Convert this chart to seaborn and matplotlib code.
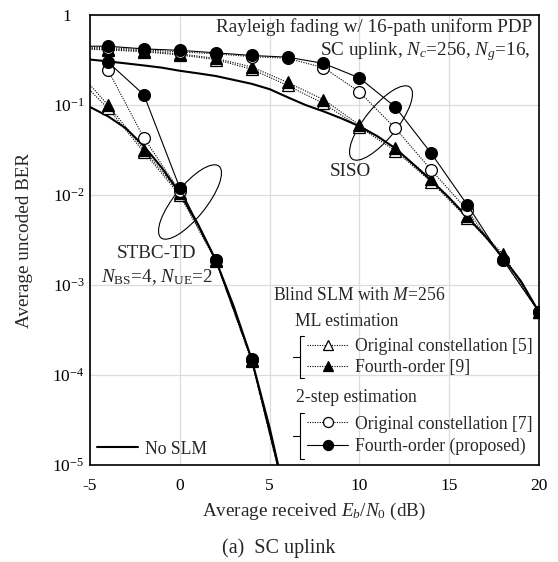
import numpy as np
import pandas as pd
import seaborn as sns
import matplotlib
matplotlib.use("Agg")
import matplotlib.pyplot as plt
from matplotlib.patches import Ellipse
from matplotlib.lines import Line2D
from matplotlib.ticker import FixedLocator, LogLocator, NullFormatter, MultipleLocator

# ---------------- data ----------------
# SISO, blind SLM (x = Eb/N0 in dB)
snr_siso = [-6, -4, -2, 0, 2, 4, 6, 8, 10, 12, 14, 16, 18, 20]
siso_2step_4th = [0.45, 0.45, 0.42, 0.405, 0.38, 0.355, 0.34, 0.29, 0.20, 0.095, 0.029, 0.0078, 0.0019, 0.0005]
siso_2step_orig = [0.44, 0.435, 0.41, 0.39, 0.37, 0.345, 0.33, 0.26, 0.14, 0.055, 0.019, 0.0068, 0.0019, 0.0005]
siso_ml_4th = [0.43, 0.42, 0.40, 0.37, 0.33, 0.265, 0.178, 0.115, 0.06, 0.033, 0.015, 0.0058, 0.0022, 0.0005]
siso_ml_orig = [0.42, 0.41, 0.39, 0.36, 0.32, 0.25, 0.165, 0.104, 0.057, 0.031, 0.014, 0.0055, 0.0021, 0.0005]

# STBC-TD, blind SLM
snr_stbc_tri = [-6, -4, -2, 0, 2, 4, 6]
stbc_ml_4th = [0.28, 0.10, 0.032, 0.0105, 0.0019, 0.000148, 3.5e-6]
stbc_ml_orig = [0.23, 0.092, 0.030, 0.0100, 0.00185, 0.000142, 3.4e-6]
snr_stbc_circ = [-4, -2, 0, 2, 4, 6]
stbc_2step_4th = [0.30, 0.13, 0.012, 0.0019, 0.00015, 3.5e-6]
stbc_2step_orig = [0.245, 0.043, 0.011, 0.0019, 0.000148, 3.5e-6]

# No SLM
snr_nslm_siso = list(range(-5, 21))
nslm_siso = [0.32, 0.305, 0.29, 0.275, 0.26, 0.24, 0.225, 0.21, 0.19, 0.172, 0.15, 0.122, 0.1,
             0.085, 0.071, 0.058, 0.045, 0.033, 0.022, 0.0145, 0.0093, 0.0057, 0.0035, 0.002,
             0.0011, 0.0005]
snr_nslm_stbc = list(range(-5, 7))
nslm_stbc = [0.095, 0.075, 0.055, 0.035, 0.02, 0.0105, 0.0048, 0.0019, 0.00058, 0.00015, 2.6e-5, 3.5e-6]

xticks = [-5, 0, 5, 10, 15, 20]
yticks = [1e-5, 1e-4, 1e-3, 1e-2, 1e-1, 1]
ytick_labels = [r"$10^{-5}$", r"$10^{-4}$", r"$10^{-3}$", r"$10^{-2}$", r"$10^{-1}$", "1   "]

lbl_ml_orig = "Original constellation [5]"
lbl_ml_4th = "Fourth-order [9]"
lbl_2s_orig = "Original constellation [7]"
lbl_2s_4th = "Fourth-order (proposed)"
lbl_nslm = "No SLM"

# ---------------- style ----------------
sns.set_theme(style="white")
plt.rcParams["font.family"] = ["Liberation Serif", "DejaVu Serif"]
plt.rcParams["mathtext.fontset"] = "custom"
plt.rcParams["mathtext.rm"] = "Liberation Serif"
plt.rcParams["mathtext.it"] = "Liberation Serif:italic"
plt.rcParams["mathtext.bf"] = "Liberation Serif:bold"
FS_BIG = 13.8   # annotations, axis labels
FS_LEG = 12.7   # legend-like texts
FS_TICK = 12.5

fig = plt.figure(figsize=(5.58, 5.62), dpi=100)
ax = fig.add_axes([90 / 558, 1 - 465 / 562, 449 / 558, 450 / 562])

MS = 8.5
LW = 0.8
DOT = (0, (1, 1.2))
common = dict(ax=ax, color="black", estimator=None, sort=False, legend=False)

def draw(x, y, ls, marker, mfc, lw=LW, ms=MS, z=3):
    df = pd.DataFrame({"x": x, "y": y})
    sns.lineplot(data=df, x="x", y="y", linestyle=ls, marker=marker, markersize=ms,
                 markerfacecolor=mfc, markeredgecolor="black", markeredgewidth=0.9,
                 linewidth=lw, zorder=z, **common)

# No SLM
draw(snr_nslm_siso, nslm_siso, "-", None, "black", lw=1.5, z=2)
draw(snr_nslm_stbc, nslm_stbc, "-", None, "black", lw=1.5, z=2)
# SISO
draw(snr_siso, siso_ml_orig, DOT, "^", "white", z=3)
draw(snr_siso, siso_ml_4th, DOT, "^", "black", z=4)
draw(snr_siso, siso_2step_orig, DOT, "o", "white", z=5)
draw(snr_siso, siso_2step_4th, "-", "o", "black", z=6)
# STBC
draw(snr_stbc_tri, stbc_ml_orig, DOT, "^", "white", z=3)
draw(snr_stbc_tri, stbc_ml_4th, DOT, "^", "black", z=4)
draw(snr_stbc_circ, stbc_2step_orig, DOT, "o", "white", z=5)
draw(snr_stbc_circ, stbc_2step_4th, "-", "o", "black", z=6)

ax.set_yscale("log")
ax.set_xlim(-5, 20)
ax.set_ylim(1e-5, 1)
ax.xaxis.set_major_locator(FixedLocator(xticks))
ax.xaxis.set_minor_locator(MultipleLocator(1))
ax.set_xticklabels([str(v) for v in xticks])
ax.yaxis.set_major_locator(FixedLocator(yticks))
ax.set_yticklabels(ytick_labels)
ax.yaxis.set_minor_locator(LogLocator(base=10, subs=np.arange(2, 10), numticks=20))
ax.yaxis.set_minor_formatter(NullFormatter())

ax.tick_params(axis="both", which="both", direction="in", colors="black",
               labelsize=FS_TICK, top=False, right=False)
ax.tick_params(axis="both", which="major", length=6, width=1.0)
ax.tick_params(axis="both", which="minor", length=4, width=0.8)
ax.tick_params(axis="x", which="major", pad=9)
ax.tick_params(axis="y", which="major", pad=4)

ax.grid(True, which="major", color="#dcdcdc", linewidth=0.9)
ax.set_axisbelow(True)
for s in ax.spines.values():
    s.set_color("black")
    s.set_linewidth(1.2)

ax.set_xlabel(r"Average received $E_b/N_0$ (dB)", fontsize=FS_BIG, labelpad=5)
ax.set_ylabel("Average uncoded BER", fontsize=FS_BIG, labelpad=14)

def A(px, py):
    return ((px - 90) / 449, (465 - py) / 450)

def atext(px, py, s, ha="left", fs=FS_LEG):
    x, y = A(px, py)
    ax.text(x, y, s, transform=ax.transAxes, ha=ha, va="center", fontsize=fs, zorder=10)

atext(532, 27, "Rayleigh fading w/ 16-path uniform PDP", ha="right", fs=FS_BIG)
atext(530, 52, r"SC uplink, $N_c$=256, $N_g$=16,", ha="right", fs=FS_BIG)
atext(350, 172, "SISO", ha="center", fs=FS_BIG)
atext(157, 253, "STBC-TD", ha="center", fs=FS_BIG)
atext(157, 277, r"$N_{\rm BS}$=4, $N_{\rm UE}$=2", ha="center", fs=FS_BIG)
atext(273, 295, r"Blind SLM with $M$=256")
atext(295, 322, "ML estimation")
atext(296, 397, "2-step estimation")

# ellipses
for cx, cy in [(190, 202), (381, 123)]:
    x, y = A(cx, cy)
    ax.add_patch(Ellipse((x, y), width=92 / 449, height=32 / 450, angle=51,
                         transform=ax.transAxes, fill=False, edgecolor="black",
                         linewidth=0.8, zorder=1))

# brackets
for top, bot in [(336, 378), (413, 459)]:
    xv = A(300, 0)[0]
    xr = A(304, 0)[0]
    xs = A(293, 0)[0]
    yt = A(0, top)[1]
    yb = A(0, bot)[1]
    ym = (yt + yb) / 2
    ax.add_line(Line2D([xr, xv, xv, xr], [yt, yt, yb, yb], transform=ax.transAxes,
                       color="black", linewidth=0.8, clip_on=False))
    ax.add_line(Line2D([xs, xv], [ym, ym], transform=ax.transAxes,
                       color="black", linewidth=0.8, clip_on=False))

# legends
def handle(ls, marker, mfc, lw=LW):
    return Line2D([], [], color="black", linestyle=ls, marker=marker, markersize=MS * 0.85,
                  markerfacecolor=mfc, markeredgecolor="black", markeredgewidth=0.9,
                  linewidth=lw)

fs_px = FS_LEG * 100 / 72
leg_kw = dict(frameon=False, fontsize=FS_LEG, handlelength=41 / fs_px,
              handletextpad=7 / fs_px, borderpad=0, borderaxespad=0,
              labelspacing=0.2, loc="center left")

l1 = ax.legend([handle(DOT, "^", "white"), handle(DOT, "^", "black")],
               [lbl_ml_orig, lbl_ml_4th], bbox_to_anchor=A(307, 357), **leg_kw)
ax.add_artist(l1)
l2 = ax.legend([handle(DOT, "o", "white"), handle("-", "o", "black")],
               [lbl_2s_orig, lbl_2s_4th], bbox_to_anchor=A(307, 435.5),
               **{**leg_kw, "labelspacing": 0.32})
ax.add_artist(l2)
l3 = ax.legend([handle("-", None, "black", lw=1.5)], [lbl_nslm],
               bbox_to_anchor=A(97, 449), **leg_kw)

fig.text(0.5, 1 - 548 / 562, "(a)  SC uplink", ha="center", va="center", fontsize=14.5)

fig.savefig("out.png", dpi=100)
